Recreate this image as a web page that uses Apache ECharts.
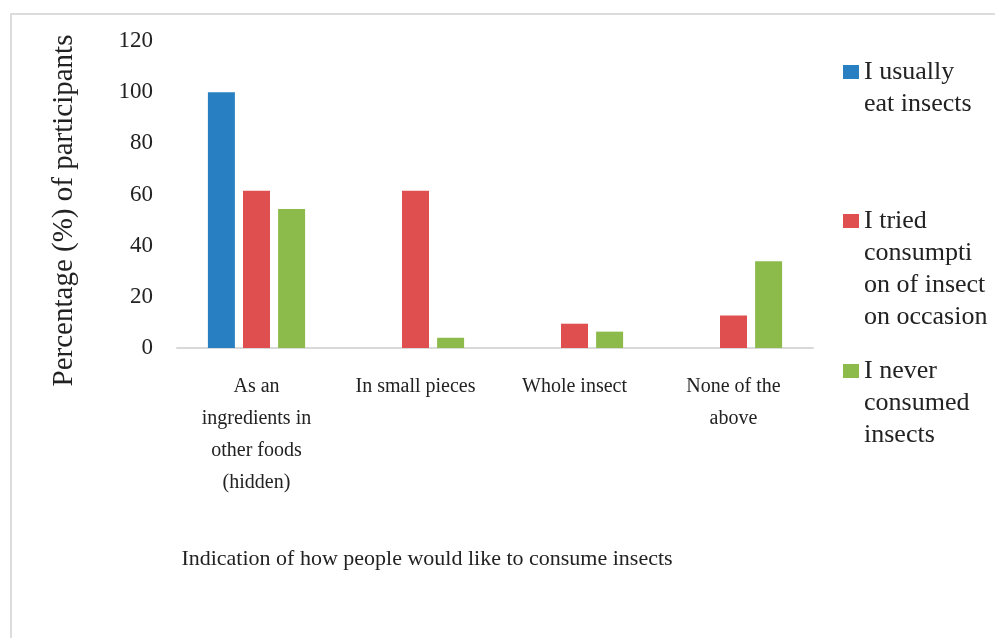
<!DOCTYPE html>
<html>
<head>
<meta charset="utf-8">
<script src="https://cdn.jsdelivr.net/npm/echarts@6/dist/echarts.min.js"></script>
<style>
  html, body { margin: 0; padding: 0; background: #fff; }
  #chart { width: 995px; height: 638px; }
</style>
</head>
<body>
<div id="chart"></div>
<script>
// chart values //
const categories = [
  'As an\ningredients in\nother foods\n(hidden)',
  'In small pieces',
  'Whole insect',
  'None of the\nabove'
]
const seriesNames = [
  'I usually eat insects',
  'I tried consumption of insect on occasion',
  'I never consumed insects'
]
const legendLabels = [
  'I usually\neat insects',
  'I tried\nconsumpti\non of insect\non occasion',
  'I never\nconsumed\ninsects'
]
const usuallyEat = [100, 0, 0, 0]
const triedOnOccasion = [61.5, 61.5, 9.5, 12.7]
const neverConsumed = [54.3, 4, 6.4, 33.9]
const yTicks = [0, 20, 40, 60, 80, 100, 120]

const colors = ['#2880c3', '#df4f4f', '#8cbb4c']
const font = '"Liberation Serif", "DejaVu Serif", serif'
const lineH = 32

// one legend per entry so that they are spread out like the original //
// blank lines in front keep the marker level with the first text line //
const legendTops = [24, 109, 291]
const legends = seriesNames.map((name, i) => {
  const lines = legendLabels[i].split('\n').length
  return {
    data: [name],
    orient: 'vertical',
    left: 843,
    top: legendTops[i],
    padding: 0,
    itemWidth: 16,
    itemHeight: 14,
    icon: 'rect',
    formatter: () => '\n'.repeat(lines - 1) + legendLabels[i],
    textStyle: {
      fontFamily: font,
      fontSize: 26,
      color: '#222',
      lineHeight: lineH
    }
  }
})

const chart = echarts.init(document.getElementById('chart'))
chart.setOption({
  animation: false,
  color: colors,
  title: {
    text: 'Indication of how people would like to consume insects',
    left: 422,
    top: 543,
    textAlign: 'center',
    textStyle: { fontFamily: font, fontSize: 22, fontWeight: 'normal', color: '#222' }
  },
  legend: legends,
  grid: { left: 177, right: 182, top: 41, bottom: 290 },
  xAxis: {
    type: 'category',
    data: categories,
    axisLine: { lineStyle: { color: '#d9d9d9', width: 2 } },
    axisTick: { show: false },
    axisLabel: {
      interval: 0,
      margin: 23,
      fontFamily: font,
      fontSize: 20,
      lineHeight: lineH,
      color: '#222'
    }
  },
  yAxis: {
    type: 'value',
    min: yTicks[0],
    max: yTicks[yTicks.length - 1],
    interval: 20,
    name: 'Percentage (%) of participants',
    nameLocation: 'middle',
    nameGap: 98,
    nameTextStyle: { fontFamily: font, fontSize: 29, color: '#222', padding: [0, 32, 0, 0] },
    splitLine: { show: false },
    axisLine: { show: false },
    axisTick: { show: false },
    axisLabel: { margin: 24, fontFamily: font, fontSize: 23, color: '#222' }
  },
  graphic: [{
    type: 'rect',
    shape: { x: 11, y: 14, width: 1000, height: 700 },
    style: { fill: 'none', stroke: '#dcdcdc', lineWidth: 2 },
    silent: true
  }],
  series: [
    { name: seriesNames[0], type: 'bar', data: usuallyEat, barWidth: 27, barGap: '30%' },
    { name: seriesNames[1], type: 'bar', data: triedOnOccasion, barWidth: 27, barGap: '30%' },
    { name: seriesNames[2], type: 'bar', data: neverConsumed, barWidth: 27, barGap: '30%' }
  ]
})
</script>
</body>
</html>
